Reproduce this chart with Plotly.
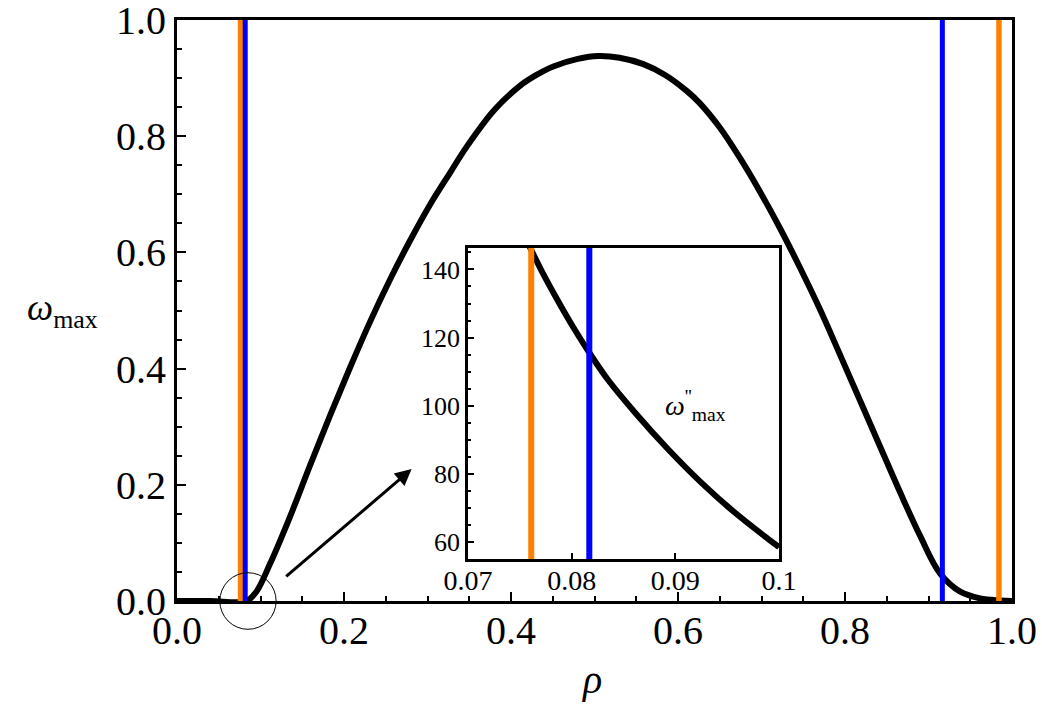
import plotly.graph_objects as go

# ---------------- data ----------------
rho_main = [0.0, 0.04, 0.083, 0.095, 0.1114, 0.1353, 0.159, 0.183, 0.207, 0.231,
            0.255, 0.279, 0.303, 0.327, 0.347, 0.38, 0.411, 0.43, 0.4507, 0.48,
            0.5046, 0.53, 0.5585, 0.585, 0.6104, 0.626, 0.650, 0.674, 0.698, 0.722,
            0.746, 0.770, 0.794, 0.818, 0.842, 0.866, 0.890, 0.914, 0.938, 0.962,
            0.986, 1.0]
omega_max = [0.0, 0.0, 0.0, 0.016, 0.064, 0.145, 0.232, 0.318, 0.401, 0.480,
             0.553, 0.620, 0.682, 0.737, 0.782, 0.845, 0.887, 0.905, 0.920, 0.933,
             0.938, 0.935, 0.924, 0.905, 0.878, 0.857, 0.815, 0.763, 0.705, 0.642,
             0.574, 0.502, 0.424, 0.345, 0.266, 0.187, 0.112, 0.047, 0.016, 0.0045,
             0.001, 0.0]

rho_inset = [0.0755, 0.0770, 0.0784, 0.0803, 0.0818, 0.0835, 0.0861, 0.0893,
             0.0925, 0.0957, 0.0989, 0.1]
omega_pp_inset = [149.5, 140.2, 132.3, 122.3, 115.1, 107.6, 98.0, 87.2,
                  77.4, 68.7, 61.0, 58.5]

orange_rho = [0.0761, 0.9844]
blue_rho = [0.0817, 0.9166]

main_x_range = [0.0, 1.0]
main_y_range = [0.0, 1.0]
main_ticks = [0.0, 0.2, 0.4, 0.6, 0.8, 1.0]
main_ticktext = ["0.0", "0.2", "0.4", "0.6", "0.8", "1.0"]
inset_x_range = [0.07, 0.1]
inset_y_range = [55.0, 146.3]
inset_x_ticks = [0.07, 0.08, 0.09, 0.1]
inset_x_ticktext = ["0.07", "0.08", "0.09", "0.1"]
inset_y_ticks = [60, 80, 100, 120, 140]

ORANGE = "#FF8000"
BLUE = "#0000FF"
FONT = "Liberation Serif"

fig = go.Figure()

# main curve
fig.add_trace(go.Scatter(x=rho_main, y=omega_max, mode="lines",
                         line=dict(color="black", width=6, shape="spline", smoothing=1.0),
                         xaxis="x", yaxis="y", hoverinfo="skip"))
for r in orange_rho:
    fig.add_trace(go.Scatter(x=[r, r], y=main_y_range, mode="lines",
                             line=dict(color=ORANGE, width=5.5), xaxis="x", yaxis="y"))
for r in blue_rho:
    fig.add_trace(go.Scatter(x=[r, r], y=main_y_range, mode="lines",
                             line=dict(color=BLUE, width=5), xaxis="x", yaxis="y"))

# inset
fig.add_trace(go.Scatter(x=rho_inset, y=omega_pp_inset, mode="lines",
                         line=dict(color="black", width=6, shape="spline", smoothing=1.0),
                         xaxis="x2", yaxis="y2"))
fig.add_trace(go.Scatter(x=[orange_rho[0]] * 2, y=inset_y_range, mode="lines",
                         line=dict(color=ORANGE, width=6), xaxis="x2", yaxis="y2"))
fig.add_trace(go.Scatter(x=[blue_rho[0]] * 2, y=inset_y_range, mode="lines",
                         line=dict(color=BLUE, width=6), xaxis="x2", yaxis="y2"))

axis_common = dict(showline=True, linecolor="black", mirror=True, showgrid=False,
                   zeroline=False, ticks="inside", tickcolor="black",
                   ticklabeloverflow="allow", automargin=False)

fig.update_layout(
    width=1042, height=719,
    margin=dict(l=177, r=30, t=20, b=118, autoexpand=False),
    paper_bgcolor="white", plot_bgcolor="white",
    showlegend=False,
    font=dict(family=FONT, color="black"),
    xaxis=dict(**axis_common, range=main_x_range, domain=[0, 1], anchor="y",
               linewidth=3, ticklen=9, tickwidth=2,
               tickmode="array", tickvals=main_ticks, ticktext=main_ticktext,
               ticklabelstandoff=-8,
               tickfont=dict(size=40, family=FONT),
               minor=dict(tickmode="linear", tick0=0, dtick=0.05, ticks="inside",
                          ticklen=5, tickwidth=2, tickcolor="black")),
    yaxis=dict(**axis_common, range=main_y_range, domain=[0, 1], anchor="x",
               linewidth=3, ticklen=9, tickwidth=2,
               tickmode="array", tickvals=main_ticks, ticktext=main_ticktext,
               tickfont=dict(size=40, family=FONT),
               minor=dict(tickmode="linear", tick0=0, dtick=0.05, ticks="inside",
                          ticklen=5, tickwidth=2, tickcolor="black")),
    xaxis2=dict(**axis_common, range=inset_x_range, domain=[0.3485, 0.721], anchor="y2",
                linewidth=2.5, ticklen=6, tickwidth=2,
                tickmode="array", tickvals=inset_x_ticks, ticktext=inset_x_ticktext,
                ticklabelstandoff=-5,
                tickfont=dict(size=28, family=FONT)),
    yaxis2=dict(**axis_common, range=inset_y_range, domain=[0.0723, 0.6076], anchor="x2",
                linewidth=2.5, ticklen=6, tickwidth=2,
                tickmode="array", tickvals=inset_y_ticks,
                tickfont=dict(size=26, family=FONT),
                minor=dict(tickmode="linear", tick0=0, dtick=5, ticks="inside",
                           ticklen=3, tickwidth=1.5, tickcolor="black")),
)

# circle around onset (paper coords equal data coords since range == domain == [0,1])
cx, cy, rx, ry = 0.085, 0.0, 0.0337, 0.0487
fig.add_shape(type="circle", xref="paper", yref="paper",
              x0=cx - rx, x1=cx + rx, y0=cy - ry, y1=cy + ry,
              line=dict(color="black", width=1))

# arrow
fig.add_annotation(x=0.281, y=0.227, ax=0.129, ay=0.040, xref="x", yref="y",
                   axref="x", ayref="y", text="", showarrow=True,
                   arrowhead=2, arrowsize=1.1, arrowwidth=3, arrowcolor="black")

# axis titles
fig.add_annotation(text="<i>ρ</i>", x=0.497, y=-0.135, xref="paper", yref="paper",
                   showarrow=False, font=dict(size=40, family=FONT),
                   xanchor="center", yanchor="middle")
fig.add_annotation(text="<i>ω</i><sub>max</sub>", x=-0.137, y=0.50, xref="paper", yref="paper",
                   showarrow=False, font=dict(size=37, family=FONT),
                   xanchor="center", yanchor="middle")

# inset label
fig.add_annotation(text="<i>ω</i><sup>''</sup><sub>max</sub>", x=0.0919, y=100.0,
                   xref="x2", yref="y2", showarrow=False,
                   font=dict(size=28, family=FONT),
                   xanchor="center", yanchor="middle")

fig.write_html("out.html")
